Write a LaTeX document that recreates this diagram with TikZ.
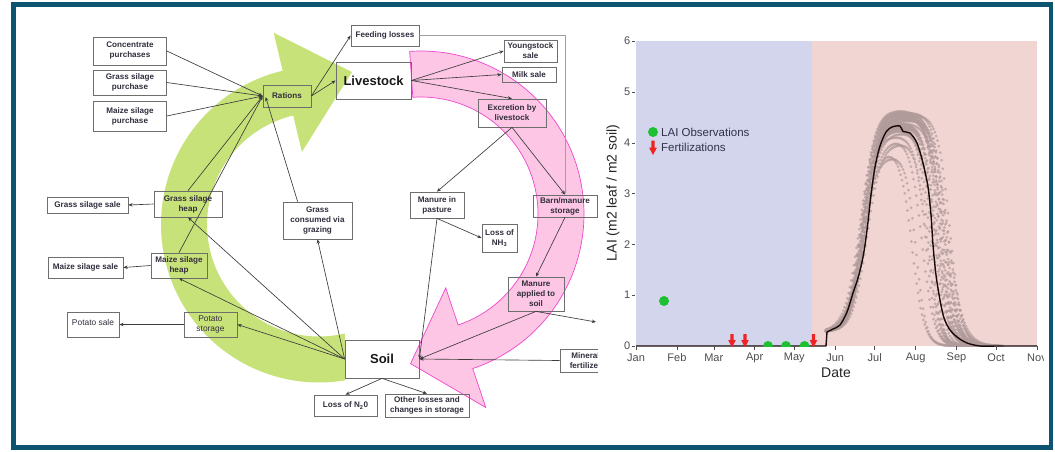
\documentclass[tikz,border=0pt]{standalone}
\usepackage{fontspec}
\setmainfont{Liberation Sans}
\usetikzlibrary{arrows.meta,calc}
\definecolor{framecol}{RGB}{12,84,112}
\definecolor{leafgreen}{RGB}{200,226,122}
\definecolor{pinkfill}{RGB}{252,198,228}
\definecolor{pinkline}{RGB}{240,70,205}
\definecolor{boxline}{RGB}{110,110,110}
\definecolor{boxtext}{RGB}{50,45,60}
\definecolor{edgecol}{RGB}{60,60,60}
\definecolor{bluebg}{RGB}{210,213,236}
\definecolor{redbg}{RGB}{240,213,211}
\definecolor{ensemble}{RGB}{176,154,154}
\definecolor{obsgreen}{RGB}{30,192,50}
\definecolor{fertred}{RGB}{240,35,35}
\definecolor{axistext}{RGB}{77,77,77}
\definecolor{legtext}{RGB}{50,50,75}
\begin{document}
\begin{tikzpicture}[x=1pt,y=-1pt,
  box/.style={draw=boxline, line width=0.75pt, inner sep=1pt, align=center, text=boxtext,
    font=\fontsize{8.1}{10}\selectfont\bfseries},
  boxreg/.style={box, font=\fontsize{8.4}{10}\selectfont},
  bigbox/.style={box, text=black!90, font=\fontsize{13}{15}\selectfont\bfseries},
  conn/.style={draw=edgecol, line width=0.65pt, -{Stealth[length=4.2pt,width=3.4pt]}},
  ticklab/.style={text=axistext, font=\fontsize{11}{13}\selectfont, inner sep=0pt},
  axtitle/.style={text=black!85, font=\fontsize{14}{16}\selectfont, inner sep=0pt},
  legend/.style={text=legtext, font=\fontsize{11.5}{13}\selectfont, anchor=west, inner sep=0pt}]
\useasboundingbox (0,0) rectangle (1055,451);
\fill[white] (0,0) rectangle (1055,451);

% ---------- green circular arrow ----------
\begin{scope}[shift={(319,224.5)}]
\fill[leafgreen] plot[domain=80.5:256.7,samples=90] (\x:158) -- (256.7:197) -- (282.2:156)
  -- (256.7:74.5) -- (256.7:112) -- plot[domain=256.7:76.6,samples=90] (\x:112) -- cycle;
\end{scope}

% ---------- pink circular arrow ----------
\begin{scope}[shift={(421,214)}]
\filldraw[fill=pinkfill, draw=pinkline, line width=0.7pt]
  plot[domain=-94:71.5,samples=90] (\x:163) -- (71.5:204) -- (94:150) -- (71.5:78)
  -- (71.5:117) -- plot[domain=71.5:-94,samples=90] (\x:117) -- cycle;
\end{scope}

% ---------- nodes ----------
\node[box, minimum width=73, minimum height=28] (conc) at (130,51) {Concentrate\\purchases};
\node[box, minimum width=73, minimum height=25] (gsp) at (130,82.5) {Grass silage\\purchase};
\node[box, minimum width=73, minimum height=30] (msp) at (130,116) {Maize silage\\purchase};
\node[box, minimum width=48, minimum height=22] (rations) at (287,96) {Rations};
\node[box, minimum width=68, minimum height=21] (feeding) at (385,35.5) {Feeding losses};
\node[bigbox, minimum width=75, minimum height=37] (livestock) at (373.5,80.5) {Livestock};
\node[box, minimum width=53, minimum height=22] (young) at (530.5,51) {Youngstock\\sale};
\node[box, minimum width=54, minimum height=15] (milk) at (529,74.5) {Milk sale};
\node[box, minimum width=68, minimum height=28] (excr) at (512,113) {Excretion by\\livestock};
\node[box, minimum width=54, minimum height=26] (pasture) at (437,205) {Manure in\\pasture};
\node[box, minimum width=35, minimum height=28] (nh3) at (499.5,238) {Loss of\\NH\textsubscript{3}};
\node[box, minimum width=64, minimum height=22] (barn) at (565,206) {Barn/manure\\storage};
\node[box, minimum width=56, minimum height=34] (applied) at (536,294) {Manure\\applied to\\soil};
\node[box, minimum width=51, minimum height=23] (mineral) at (585.5,360.5) {Mineral\\fertilizer};
\node[box, minimum width=81, minimum height=16] (gssale) at (87.5,205) {Grass silage sale};
\node[box, minimum width=68, minimum height=26] (gsheap) at (188,204) {Grass silage\\heap};
\node[box, minimum width=75, minimum height=21] (mssale) at (85.5,267.5) {Maize silage sale};
\node[box, minimum width=56, minimum height=25] (msheap) at (179,265.5) {Maize silage\\heap};
\node[box, minimum width=69, minimum height=37] (grazing) at (317.5,220.5) {Grass\\consumed via\\grazing};
\node[boxreg, minimum width=52, minimum height=25] (potsale) at (93,324.5) {\raisebox{5pt}{Potato sale}};
\node[boxreg, minimum width=53, minimum height=25] (potstore) at (210.5,324.5) {Potato\\storage};
\node[bigbox, minimum width=74, minimum height=38] (soil) at (382,359) {Soil};
\node[box, minimum width=63, minimum height=21] (n2o) at (345.5,405.5) {Loss of N\textsubscript{2}0};
\node[box, minimum width=84, minimum height=23] (other) at (427,405.5) {Other losses and\\changes in storage};
\coordinate (offr) at (596,322);

% ---------- connectors ----------
\draw[conn] (conc.east) -- (rations.west);
\draw[conn] (gsp.east) -- (rations.west);
\draw[conn] (msp.east) -- (rations.west);
\draw[conn] (gsheap.north) -- (rations.west);
\draw[conn] (msheap.north) -- (rations.west);
\draw[conn] ($(grazing.north west)+(15,0)$) -- ($(rations.west)+(3,1)$);
\draw[conn] (rations.east) -- (livestock.west);
\draw[conn] (rations.east) -- (feeding.west);
\draw[conn] (livestock.east) -- (young.west);
\draw[conn] (livestock.east) -- (milk.west);
\draw[conn] (livestock.east) -- (excr.north);
\draw[conn, draw=gray!75] (feeding.east) -| (barn.north);
\draw[conn] (excr.south) -- (pasture.north);
\draw[conn] (excr.south) -- (barn.north);
\draw[conn] (pasture.south) -- (nh3.west);
\draw[conn] (pasture.south) -- (soil.east);
\draw[conn] (barn.south) -- (applied.north);
\draw[conn] (applied.south) -- (soil.east);
\draw[conn] (applied.south) -- (offr);
\draw[conn] (mineral.west) -- (soil.east);
\draw[conn] (soil.west) -- (gsheap.south);
\draw[conn] (soil.west) -- (msheap.south);
\draw[conn] (soil.west) -- (potstore.east);
\draw[conn] (soil.west) -- (grazing.south);
\draw[conn] (gsheap.west) -- (gssale.east);
\draw[conn] (msheap.west) -- (mssale.east);
\draw[conn] (potstore.west) -- (potsale.east);
\draw[conn] (soil.south) -- (n2o.north);
\draw[conn] (soil.south) -- (other.north);

% ---------- chart ----------
\fill[white] (597.5,12) rectangle (1043,442);
\begin{scope}
\clip (597.5,12) rectangle (1043,442);
\fill[bluebg] (636,41) rectangle (812,346);
\fill[redbg] (812,41) rectangle (1037,346);
\begin{scope}
\clip (636,41) rectangle (1037,346.5);
\foreach \pa/\pb/\pc/\pd/\pe in {862/7/4.5/938/5.5, 864/7/4.6/942/6, 866/7.5/4.45/945/6,
   863/6.5/4.3/935/5, 865/7/4.2/930/5, 861/7/4.65/940/7, 867/7/4.0/926/5, 862/7/3.75/916/5,
   866/7/4.5/948/7, 864/8/4.1/922/6, 862/6.5/4.6/944/8, 865/7/4.4/936/9, 863/7/4.35/933/4.5,
   860/7.5/4.55/950/6, 864/7/3.9/912/6, 863/7/4.4/931/5, 865/7/4.55/939/6, 862/7/4.25/928/5,
   864/7/4.5/943/7, 866/7/4.35/937/6, 863/7/4.6/946/6, 861/7/4.15/927/6, 864/7/4.45/941/5,
   865/7/4.3/934/7, 862/7/4.62/947/8, 863/7/4.5/940/6, 865/7/4.4/944/7, 861/7/4.3/936/6}{
  \pgfmathsetmacro\xe{\pd+7*\pe}
  \pgfmathtruncatemacro\ns{(\xe-826)/1.32+1}
  \path plot[domain=826:\xe, samples=\ns, only marks, mark=*, mark size=1.5pt,
     mark options={fill=ensemble, draw=ensemble, fill opacity=0.7, draw opacity=0}]
     (\x,{346-50.8*(0.28+(\pc-0.28)/(1+exp(min(9,(\pa-\x)/\pb))))/(1+exp(min(9,(\x-\pd)/\pe)))});
}
\draw[line width=1.4pt, draw={rgb,255:red,25;green,10;blue,10}, line join=round]
  (636,346) -- (826,346) -- (827,332) -- plot[smooth, tension=0.5] coordinates {(827,332) (833,329)
  (840,325) (847,312) (853,293) (858,278) (862,262) (865,245) (868,222) (871,195) (875,167)
  (880,146) (886,132) (892,127) (900,126) (903,131.5) (910,133) (917,143) (923,163) (928,187)
  (931,215) (933,245) (936,275) (940,300) (944,318) (950,330) (957,337) (967,343) (980,346)
  (995,346)} -- (1037,346);
\foreach \ox/\oy in {664/301, 768/346, 786/346, 804.5/346}
  \fill[obsgreen] (\ox,\oy) circle (5);
\foreach \ax in {732,745,813.5}
  \fill[fertred] (\ax-1.6,334) -- (\ax+1.6,334) -- (\ax+1.6,340) -- (\ax+3.8,340) -- (\ax,347.5)
    -- (\ax-3.8,340) -- (\ax-1.6,340) -- cycle;
\end{scope}
% axes
\foreach \m/\xx in {Jan/636,Feb/676.9,Mar/713.8,Apr/754.7,May/794.3,Jun/835.2,Jul/874.7,
   Aug/915.6,Sep/956.5,Oct/996,Nov/1037}{
  \draw[axistext, line width=0.6pt] (\xx,346) -- (\xx,349.5);
  \node[ticklab] (m\m) at (\xx,357.5) {\m};
}
\foreach \v in {0,...,6}{
  \draw[axistext, line width=0.6pt] (631.5,{346-50.8*\v}) -- (635,{346-50.8*\v});
  \node[ticklab, anchor=east] (yt\v) at (630.5,{346-50.8*\v}) {\v};
}
\node[axtitle] (xtitle) at (836,372.5) {Date};
\node[axtitle, rotate=90] (ytitle) at (613,193) {LAI (m2 leaf / m2 soil)};
% legend
\fill[obsgreen] (653,132) circle (5);
\fill[fertred] (651.4,140.5) -- (654.6,140.5) -- (654.6,147.5) -- (657,147.5) -- (653,155)
  -- (649,147.5) -- (651.4,147.5) -- cycle;
\node[legend] (legobs) at (661,132.5) {LAI Observations};
\node[legend] (legfert) at (661,147.5) {Fertilizations};
\end{scope}

% ---------- frame ----------
\draw[framecol, line width=4.5pt] (13.25,4.25) rectangle (1050.75,447.25);
\end{tikzpicture}
\end{document}
